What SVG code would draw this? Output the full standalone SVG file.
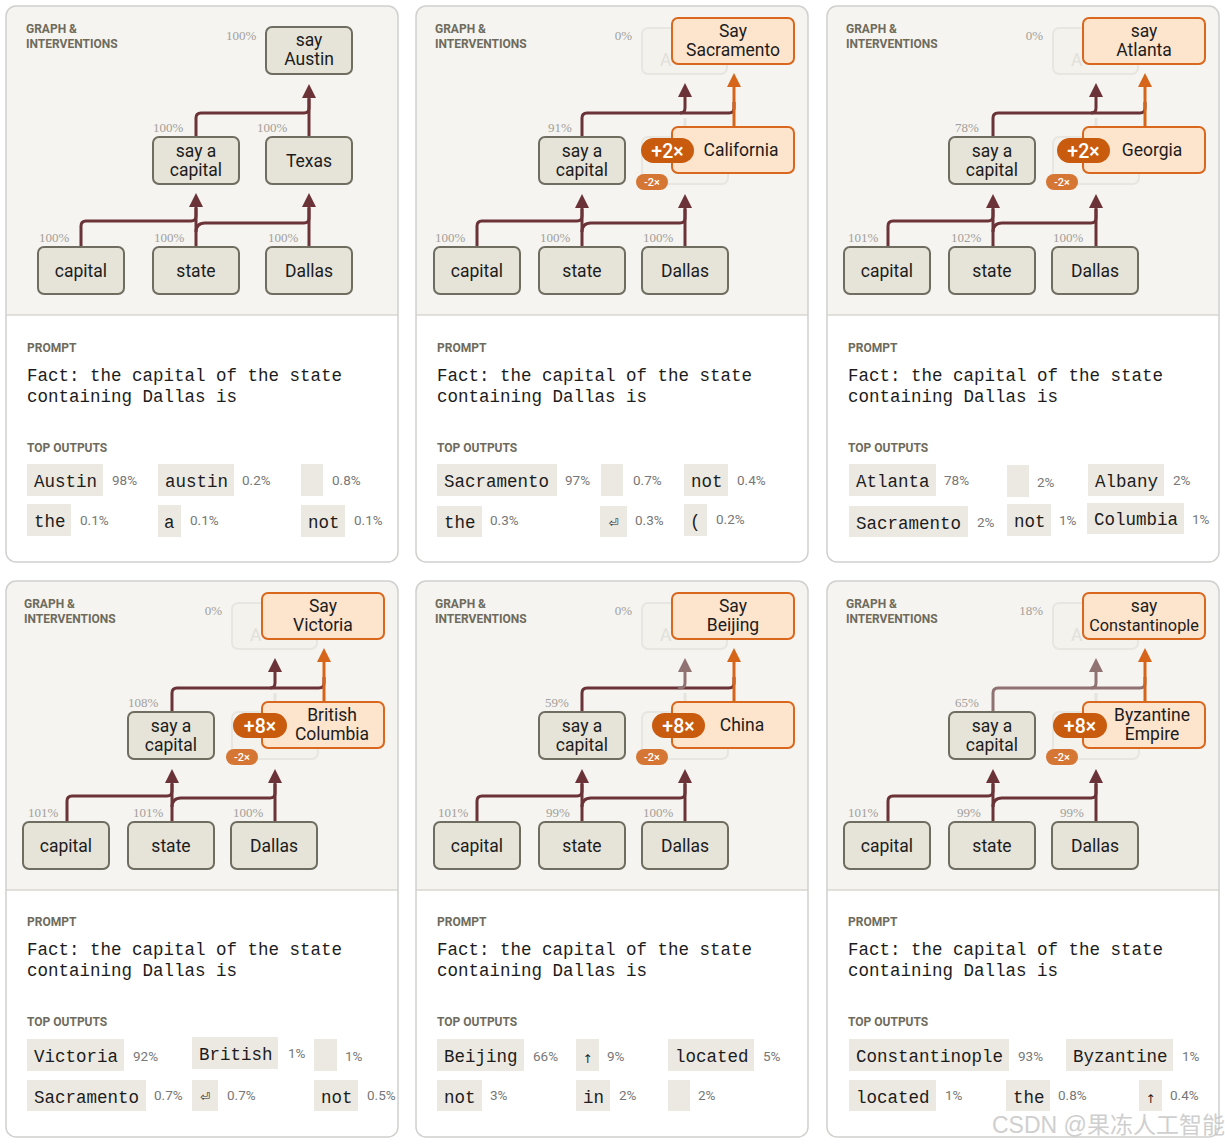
<svg xmlns="http://www.w3.org/2000/svg" width="1225" height="1146" viewBox="0 0 1225 1146">
<defs>
<style>
.bg{fill:#ffffff}
.card{fill:#ffffff}
.gbg{fill:#f5f4f0}
.div{stroke:#d9d7d0;stroke-width:1.5}
.cardb{fill:none;stroke:#d0d0ce;stroke-width:1.5}
.hd{font-family:Roboto,'Liberation Sans',sans-serif;font-weight:700;font-size:12px;fill:#6e6b5c}
.n{fill:#e6e3d8;stroke:#6f6c60;stroke-width:2}
.nf{fill:#f3f2ed;stroke:#e8e6e0;stroke-width:2}
.no{fill:#fde4cd;stroke:#d9671d;stroke-width:2}
.nt{font-family:Roboto,'Liberation Sans',sans-serif;font-size:17.5px;fill:#1c1c1c;text-anchor:middle}
.ntf{font-family:Roboto,'Liberation Sans',sans-serif;font-size:17.5px;fill:#e2e0da}
.pct{font-family:'Liberation Serif',serif;font-size:13px;fill:#a3a09b}
.e{fill:none;stroke:#6b3337;stroke-width:3}
.ef{fill:none;stroke:#907273;stroke-width:3}
.eo{fill:none;stroke:#d6651a;stroke-width:3}
.eg{fill:none;stroke:#e6e4de;stroke-width:3}
.bb{fill:#c95b0e}
.bbt{font-family:Roboto,'Liberation Sans',sans-serif;font-weight:500;font-size:19.5px;fill:#ffffff;text-anchor:middle}
.bs{fill:#d67634}
.bst{font-family:Roboto,'Liberation Sans',sans-serif;font-weight:500;font-size:11px;fill:#ffffff;text-anchor:middle}
.mono{font-family:'Liberation Mono','DejaVu Sans Mono',monospace;font-size:17.5px;fill:#1c1c1c}
.sym{font-family:'DejaVu Sans','DejaVu Sans Mono',sans-serif;font-size:12px;fill:#1c1c1c;text-anchor:middle}
.tb{fill:#ece9e2}
.pc{font-family:Roboto,'Liberation Sans',sans-serif;font-size:13.5px;fill:#777777}
.wm{font-family:'Liberation Sans','Noto Sans CJK SC',sans-serif;font-size:23px;fill:#c4c4c4;opacity:0.8}
</style>
<marker id="am" viewBox="0 0 14 14" refX="0" refY="7" markerWidth="14" markerHeight="14" markerUnits="userSpaceOnUse" orient="auto"><path d="M0,0 L14,7 L0,14 Z" fill="#6b3337"/></marker>
<marker id="amf" viewBox="0 0 14 14" refX="0" refY="7" markerWidth="14" markerHeight="14" markerUnits="userSpaceOnUse" orient="auto"><path d="M0,0 L14,7 L0,14 Z" fill="#907273"/></marker>
<marker id="ao" viewBox="0 0 14 14" refX="0" refY="7" markerWidth="14" markerHeight="14" markerUnits="userSpaceOnUse" orient="auto"><path d="M0,0 L14,7 L0,14 Z" fill="#d6651a"/></marker>
</defs>
<rect class="bg" width="1225" height="1146"/>

<!-- PANEL 1 -->
<g id="panel-1" transform="translate(6,6)">
<rect class="card" width="392" height="556" rx="10"/>
<path class="gbg" d="M0,10 Q0,0 10,0 H382 Q392,0 392,10 V309 H0 Z"/>
<line class="div" x1="0" y1="309" x2="392" y2="309"/>
<rect class="cardb" width="392" height="556" rx="10"/>
<text class="hd" x="20" y="27">GRAPH &amp;</text>
<text class="hd" x="20" y="41.5">INTERVENTIONS</text>
<g id="p1-connectors">
<path class="e" d="M75,241 V220 Q75,215 80,215 H185 Q190,215 190,210 V202"/>
<path class="e" d="M190,226 Q190,217 199,217 H298 Q303,217 303,212 V202"/>
<path class="e" d="M190,241 V201" marker-end="url(#am)"/>
<path class="e" d="M303,241 V201" marker-end="url(#am)"/>
<path class="e" d="M190,131 V112 Q190,107 195,107 H298 Q303,107 303,102 V93"/>
<path class="e" d="M303,131 V92" marker-end="url(#am)"/>
</g>
<g id="p1-say-austin"><rect class="n" x="260" y="21" width="86" height="47" rx="6"/><text class="nt" x="303" y="40">say</text><text class="nt" x="303" y="59">Austin</text></g>
<g id="p1-say-a-capital"><rect class="n" x="147" y="131" width="86" height="47" rx="6"/><text class="nt" x="190" y="150.5">say a</text><text class="nt" x="190" y="169.5">capital</text></g>
<g id="p1-texas"><rect class="n" x="260" y="131" width="86" height="47" rx="6"/><text class="nt" x="303" y="160.5">Texas</text></g>
<g id="p1-capital"><rect class="n" x="32" y="241" width="86" height="47" rx="6"/><text class="nt" x="75" y="270.5">capital</text></g>
<g id="p1-state"><rect class="n" x="147" y="241" width="86" height="47" rx="6"/><text class="nt" x="190" y="270.5">state</text></g>
<g id="p1-dallas"><rect class="n" x="260" y="241" width="86" height="47" rx="6"/><text class="nt" x="303" y="270.5">Dallas</text></g>
<text class="pct" x="220" y="34">100%</text>
<text class="pct" x="147" y="126">100%</text>
<text class="pct" x="251" y="126">100%</text>
<text class="pct" x="33" y="236">100%</text>
<text class="pct" x="148" y="236">100%</text>
<text class="pct" x="262" y="236">100%</text>
<text class="hd" x="21" y="346">PROMPT</text>
<text class="mono" x="21" y="375">Fact: the capital of the state</text>
<text class="mono" x="21" y="396">containing Dallas is</text>
<text class="hd" x="21" y="446">TOP OUTPUTS</text>
<rect class="tb" x="21" y="458" width="76" height="32"/><text class="mono" x="28" y="481">Austin</text><text class="pc" x="106" y="479">98%</text>
<rect class="tb" x="152" y="458" width="76" height="32"/><text class="mono" x="159" y="481">austin</text><text class="pc" x="236" y="479">0.2%</text>
<rect class="tb" x="295" y="458" width="22" height="32"/><text class="pc" x="326" y="479">0.8%</text>
<rect class="tb" x="21" y="498" width="44" height="32"/><text class="mono" x="28" y="521">the</text><text class="pc" x="74" y="519">0.1%</text>
<rect class="tb" x="152" y="499" width="23" height="32"/><text class="mono" x="158" y="522">a</text><text class="pc" x="184" y="519">0.1%</text>
<rect class="tb" x="295" y="499" width="44" height="32"/><text class="mono" x="302" y="522">not</text><text class="pc" x="348" y="519">0.1%</text>
</g>

<!-- PANEL 2 -->
<g id="panel-2" transform="translate(416,6)">
<rect class="card" width="392" height="556" rx="10"/>
<path class="gbg" d="M0,10 Q0,0 10,0 H382 Q392,0 392,10 V309 H0 Z"/>
<line class="div" x1="0" y1="309" x2="392" y2="309"/>
<rect class="cardb" width="392" height="556" rx="10"/>
<text class="hd" x="19" y="27">GRAPH &amp;</text>
<text class="hd" x="19" y="41.5">INTERVENTIONS</text>
<g id="p2-austin-off"><rect class="nf" x="226" y="22" width="85" height="46" rx="6"/><text class="ntf" x="244" y="60">A</text></g>
<g id="p2-texas-off"><rect class="nf" x="226" y="131" width="86" height="47" rx="6"/></g>
<g id="p2-connectors">
<path class="eg" d="M269,131 V112"/>
<path class="e" d="M61,241 V220 Q61,215 66,215 H161 Q166,215 166,210 V203"/>
<path class="e" d="M166,226 Q166,217 175,217 H264 Q269,217 269,212 V203"/>
<path class="e" d="M166,241 V202" marker-end="url(#am)"/>
<path class="e" d="M269,241 V202" marker-end="url(#am)"/>
<path class="e" d="M166,131 V112 Q166,107 171,107 H313 Q318,107 318,102 V96"/>
<path class="e" d="M264,107 Q269,107 269,102 V91" marker-end="url(#am)"/>
<path class="eo" d="M318,121 V81" marker-end="url(#ao)"/>
</g>
<g id="p2-say-sacramento"><rect class="no" x="256" y="12" width="122" height="46" rx="6"/><text class="nt" x="317" y="30.5">Say</text><text class="nt" x="317" y="49.5">Sacramento</text></g>
<g id="p2-california"><rect class="no" x="256" y="121" width="122" height="46" rx="6"/><text class="nt" x="325" y="150">California</text></g>
<g id="p2-say-a-capital"><rect class="n" x="123" y="131" width="86" height="47" rx="6"/><text class="nt" x="166" y="150.5">say a</text><text class="nt" x="166" y="169.5">capital</text></g>
<g id="p2-capital"><rect class="n" x="18" y="241" width="86" height="47" rx="6"/><text class="nt" x="61" y="270.5">capital</text></g>
<g id="p2-state"><rect class="n" x="123" y="241" width="86" height="47" rx="6"/><text class="nt" x="166" y="270.5">state</text></g>
<g id="p2-dallas"><rect class="n" x="226" y="241" width="86" height="47" rx="6"/><text class="nt" x="269" y="270.5">Dallas</text></g>
<g id="p2-boost"><rect class="bb" x="225" y="132" width="53" height="25" rx="12.5"/><text class="bbt" x="251.5" y="151.5">+2×</text></g>
<g id="p2-suppress"><rect class="bs" x="220" y="168" width="32" height="16" rx="8"/><text class="bst" x="236" y="180">-2×</text></g>
<text class="pct" x="216" y="34" text-anchor="end">0%</text>
<text class="pct" x="132" y="126">91%</text>
<text class="pct" x="19" y="236">100%</text>
<text class="pct" x="124" y="236">100%</text>
<text class="pct" x="227" y="236">100%</text>
<text class="hd" x="21" y="346">PROMPT</text>
<text class="mono" x="21" y="375">Fact: the capital of the state</text>
<text class="mono" x="21" y="396">containing Dallas is</text>
<text class="hd" x="21" y="446">TOP OUTPUTS</text>
<rect class="tb" x="21" y="458" width="120" height="32"/><text class="mono" x="28" y="481">Sacramento</text><text class="pc" x="149" y="479">97%</text>
<rect class="tb" x="185" y="458" width="22" height="32"/><text class="pc" x="217" y="479">0.7%</text>
<rect class="tb" x="268" y="458" width="44" height="32"/><text class="mono" x="275" y="481">not</text><text class="pc" x="321" y="479">0.4%</text>
<rect class="tb" x="21" y="500" width="45" height="31"/><text class="mono" x="28" y="522">the</text><text class="pc" x="74" y="519">0.3%</text>
<rect class="tb" x="184" y="500" width="27" height="31"/><text class="sym" x="197.5" y="521">⏎</text><text class="pc" x="219" y="519">0.3%</text>
<rect class="tb" x="268" y="498" width="23" height="32"/><text class="mono" x="274" y="521">(</text><text class="pc" x="300" y="518">0.2%</text>
</g>

<!-- PANEL 3 -->
<g id="panel-3" transform="translate(827,6)">
<rect class="card" width="392" height="556" rx="10"/>
<path class="gbg" d="M0,10 Q0,0 10,0 H382 Q392,0 392,10 V309 H0 Z"/>
<line class="div" x1="0" y1="309" x2="392" y2="309"/>
<rect class="cardb" width="392" height="556" rx="10"/>
<text class="hd" x="19" y="27">GRAPH &amp;</text>
<text class="hd" x="19" y="41.5">INTERVENTIONS</text>
<g id="p3-austin-off"><rect class="nf" x="226" y="22" width="85" height="46" rx="6"/><text class="ntf" x="244" y="60">A</text></g>
<g id="p3-texas-off"><rect class="nf" x="226" y="131" width="86" height="47" rx="6"/></g>
<g id="p3-connectors">
<path class="eg" d="M269,131 V112"/>
<path class="e" d="M61,241 V220 Q61,215 66,215 H161 Q166,215 166,210 V203"/>
<path class="e" d="M166,226 Q166,217 175,217 H264 Q269,217 269,212 V203"/>
<path class="e" d="M166,241 V202" marker-end="url(#am)"/>
<path class="e" d="M269,241 V202" marker-end="url(#am)"/>
<path class="e" d="M166,131 V112 Q166,107 171,107 H313 Q318,107 318,102 V96"/>
<path class="e" d="M264,107 Q269,107 269,102 V91" marker-end="url(#am)"/>
<path class="eo" d="M318,121 V81" marker-end="url(#ao)"/>
</g>
<g id="p3-say-atlanta"><rect class="no" x="256" y="12" width="122" height="46" rx="6"/><text class="nt" x="317" y="30.5">say</text><text class="nt" x="317" y="49.5">Atlanta</text></g>
<g id="p3-georgia"><rect class="no" x="256" y="121" width="122" height="46" rx="6"/><text class="nt" x="325" y="150">Georgia</text></g>
<g id="p3-say-a-capital"><rect class="n" x="122" y="131" width="86" height="47" rx="6"/><text class="nt" x="165" y="150.5">say a</text><text class="nt" x="165" y="169.5">capital</text></g>
<g id="p3-capital"><rect class="n" x="17" y="241" width="86" height="47" rx="6"/><text class="nt" x="60" y="270.5">capital</text></g>
<g id="p3-state"><rect class="n" x="122" y="241" width="86" height="47" rx="6"/><text class="nt" x="165" y="270.5">state</text></g>
<g id="p3-dallas"><rect class="n" x="225" y="241" width="86" height="47" rx="6"/><text class="nt" x="268" y="270.5">Dallas</text></g>
<g id="p3-boost"><rect class="bb" x="230" y="132" width="53" height="25" rx="12.5"/><text class="bbt" x="256.5" y="151.5">+2×</text></g>
<g id="p3-suppress"><rect class="bs" x="219" y="168" width="32" height="16" rx="8"/><text class="bst" x="235" y="180">-2×</text></g>
<text class="pct" x="216" y="34" text-anchor="end">0%</text>
<text class="pct" x="128" y="126">78%</text>
<text class="pct" x="21" y="236">101%</text>
<text class="pct" x="124" y="236">102%</text>
<text class="pct" x="226" y="236">100%</text>
<text class="hd" x="21" y="346">PROMPT</text>
<text class="mono" x="21" y="375">Fact: the capital of the state</text>
<text class="mono" x="21" y="396">containing Dallas is</text>
<text class="hd" x="21" y="446">TOP OUTPUTS</text>
<rect class="tb" x="22" y="458" width="87" height="32"/><text class="mono" x="29" y="481">Atlanta</text><text class="pc" x="117" y="479">78%</text>
<rect class="tb" x="180" y="459" width="22" height="32"/><text class="pc" x="210" y="481">2%</text>
<rect class="tb" x="261" y="458" width="76" height="32"/><text class="mono" x="268" y="481">Albany</text><text class="pc" x="346" y="479">2%</text>
<rect class="tb" x="22" y="500" width="119" height="31"/><text class="mono" x="29" y="523">Sacramento</text><text class="pc" x="150" y="521">2%</text>
<rect class="tb" x="180" y="498" width="44" height="32"/><text class="mono" x="187" y="521">not</text><text class="pc" x="232" y="519">1%</text>
<rect class="tb" x="260" y="497" width="97" height="31"/><text class="mono" x="267" y="519">Columbia</text><text class="pc" x="365" y="518">1%</text>
</g>

<!-- PANEL 4 -->
<g id="panel-4" transform="translate(6,581)">
<rect class="card" width="392" height="556" rx="10"/>
<path class="gbg" d="M0,10 Q0,0 10,0 H382 Q392,0 392,10 V309 H0 Z"/>
<line class="div" x1="0" y1="309" x2="392" y2="309"/>
<rect class="cardb" width="392" height="556" rx="10"/>
<text class="hd" x="18" y="27">GRAPH &amp;</text>
<text class="hd" x="18" y="41.5">INTERVENTIONS</text>
<g id="p4-austin-off"><rect class="nf" x="226" y="22" width="85" height="46" rx="6"/><text class="ntf" x="244" y="60">A</text></g>
<g id="p4-texas-off"><rect class="nf" x="226" y="131" width="86" height="47" rx="6"/></g>
<g id="p4-connectors">
<path class="eg" d="M269,131 V112"/>
<path class="e" d="M61,241 V220 Q61,215 66,215 H161 Q166,215 166,210 V203"/>
<path class="e" d="M166,226 Q166,217 175,217 H264 Q269,217 269,212 V203"/>
<path class="e" d="M166,241 V202" marker-end="url(#am)"/>
<path class="e" d="M269,241 V202" marker-end="url(#am)"/>
<path class="e" d="M166,131 V112 Q166,107 171,107 H313 Q318,107 318,102 V96"/>
<path class="e" d="M264,107 Q269,107 269,102 V91" marker-end="url(#am)"/>
<path class="eo" d="M318,121 V81" marker-end="url(#ao)"/>
</g>
<g id="p4-say-victoria"><rect class="no" x="256" y="12" width="122" height="46" rx="6"/><text class="nt" x="317" y="30.5">Say</text><text class="nt" x="317" y="49.5">Victoria</text></g>
<g id="p4-british-columbia"><rect class="no" x="256" y="121" width="122" height="46" rx="6"/><text class="nt" x="326" y="140">British</text><text class="nt" x="326" y="159">Columbia</text></g>
<g id="p4-say-a-capital"><rect class="n" x="122" y="131" width="86" height="47" rx="6"/><text class="nt" x="165" y="150.5">say a</text><text class="nt" x="165" y="169.5">capital</text></g>
<g id="p4-capital"><rect class="n" x="17" y="241" width="86" height="47" rx="6"/><text class="nt" x="60" y="270.5">capital</text></g>
<g id="p4-state"><rect class="n" x="122" y="241" width="86" height="47" rx="6"/><text class="nt" x="165" y="270.5">state</text></g>
<g id="p4-dallas"><rect class="n" x="225" y="241" width="86" height="47" rx="6"/><text class="nt" x="268" y="270.5">Dallas</text></g>
<g id="p4-boost"><rect class="bb" x="227" y="132" width="54" height="25" rx="12.5"/><text class="bbt" x="254" y="151.5">+8×</text></g>
<g id="p4-suppress"><rect class="bs" x="220" y="168" width="32" height="16" rx="8"/><text class="bst" x="236" y="180">-2×</text></g>
<text class="pct" x="216" y="34" text-anchor="end">0%</text>
<text class="pct" x="122" y="126">108%</text>
<text class="pct" x="22" y="236">101%</text>
<text class="pct" x="127" y="236">101%</text>
<text class="pct" x="227" y="236">100%</text>
<text class="hd" x="21" y="345">PROMPT</text>
<text class="mono" x="21" y="374">Fact: the capital of the state</text>
<text class="mono" x="21" y="395">containing Dallas is</text>
<text class="hd" x="21" y="445">TOP OUTPUTS</text>
<rect class="tb" x="21" y="458" width="97" height="32"/><text class="mono" x="28" y="481">Victoria</text><text class="pc" x="127" y="480">92%</text>
<rect class="tb" x="186" y="456" width="86" height="32"/><text class="mono" x="193" y="479">British</text><text class="pc" x="282" y="477">1%</text>
<rect class="tb" x="308" y="458" width="23" height="32"/><text class="pc" x="339" y="480">1%</text>
<rect class="tb" x="21" y="499" width="119" height="31"/><text class="mono" x="28" y="522">Sacramento</text><text class="pc" x="148" y="519">0.7%</text>
<rect class="tb" x="186" y="499" width="26" height="31"/><text class="sym" x="199" y="520">⏎</text><text class="pc" x="221" y="519">0.7%</text>
<rect class="tb" x="308" y="499" width="44" height="31"/><text class="mono" x="315" y="522">not</text><text class="pc" x="361" y="519">0.5%</text>
</g>

<!-- PANEL 5 -->
<g id="panel-5" transform="translate(416,581)">
<rect class="card" width="392" height="556" rx="10"/>
<path class="gbg" d="M0,10 Q0,0 10,0 H382 Q392,0 392,10 V309 H0 Z"/>
<line class="div" x1="0" y1="309" x2="392" y2="309"/>
<rect class="cardb" width="392" height="556" rx="10"/>
<text class="hd" x="19" y="27">GRAPH &amp;</text>
<text class="hd" x="19" y="41.5">INTERVENTIONS</text>
<g id="p5-austin-off"><rect class="nf" x="226" y="22" width="85" height="46" rx="6"/><text class="ntf" x="244" y="60">A</text></g>
<g id="p5-texas-off"><rect class="nf" x="226" y="131" width="86" height="47" rx="6"/></g>
<g id="p5-connectors">
<path class="eg" d="M269,131 V112"/>
<path class="e" d="M61,241 V220 Q61,215 66,215 H161 Q166,215 166,210 V203"/>
<path class="e" d="M166,226 Q166,217 175,217 H264 Q269,217 269,212 V203"/>
<path class="e" d="M166,241 V202" marker-end="url(#am)"/>
<path class="e" d="M269,241 V202" marker-end="url(#am)"/>
<path class="e" d="M166,131 V112 Q166,107 171,107 H313 Q318,107 318,102 V96"/>
<path class="ef" d="M262,107 H264 Q269,107 269,102 V91" marker-end="url(#amf)"/>
<path class="eo" d="M318,121 V81" marker-end="url(#ao)"/>
</g>
<g id="p5-say-beijing"><rect class="no" x="256" y="12" width="122" height="46" rx="6"/><text class="nt" x="317" y="30.5">Say</text><text class="nt" x="317" y="49.5">Beijing</text></g>
<g id="p5-china"><rect class="no" x="256" y="121" width="122" height="46" rx="6"/><text class="nt" x="326" y="150">China</text></g>
<g id="p5-say-a-capital"><rect class="n" x="123" y="131" width="86" height="47" rx="6"/><text class="nt" x="166" y="150.5">say a</text><text class="nt" x="166" y="169.5">capital</text></g>
<g id="p5-capital"><rect class="n" x="18" y="241" width="86" height="47" rx="6"/><text class="nt" x="61" y="270.5">capital</text></g>
<g id="p5-state"><rect class="n" x="123" y="241" width="86" height="47" rx="6"/><text class="nt" x="166" y="270.5">state</text></g>
<g id="p5-dallas"><rect class="n" x="226" y="241" width="86" height="47" rx="6"/><text class="nt" x="269" y="270.5">Dallas</text></g>
<g id="p5-boost"><rect class="bb" x="236" y="132" width="53" height="25" rx="12.5"/><text class="bbt" x="262.5" y="151.5">+8×</text></g>
<g id="p5-suppress"><rect class="bs" x="220" y="168" width="32" height="16" rx="8"/><text class="bst" x="236" y="180">-2×</text></g>
<text class="pct" x="216" y="34" text-anchor="end">0%</text>
<text class="pct" x="129" y="126">59%</text>
<text class="pct" x="22" y="236">101%</text>
<text class="pct" x="130" y="236">99%</text>
<text class="pct" x="227" y="236">100%</text>
<text class="hd" x="21" y="345">PROMPT</text>
<text class="mono" x="21" y="374">Fact: the capital of the state</text>
<text class="mono" x="21" y="395">containing Dallas is</text>
<text class="hd" x="21" y="445">TOP OUTPUTS</text>
<rect class="tb" x="21" y="458" width="87" height="32"/><text class="mono" x="28" y="481">Beijing</text><text class="pc" x="117" y="480">66%</text>
<rect class="tb" x="160" y="458" width="23" height="32"/><text class="sym" x="171.5" y="482">↑</text><text class="pc" x="191" y="480">9%</text>
<rect class="tb" x="252" y="458" width="86" height="32"/><text class="mono" x="259" y="481">located</text><text class="pc" x="347" y="480">5%</text>
<rect class="tb" x="21" y="499" width="45" height="31"/><text class="mono" x="28" y="522">not</text><text class="pc" x="74" y="519">3%</text>
<rect class="tb" x="160" y="499" width="34" height="31"/><text class="mono" x="167" y="522">in</text><text class="pc" x="203" y="519">2%</text>
<rect class="tb" x="252" y="499" width="22" height="31"/><text class="pc" x="282" y="519">2%</text>
</g>

<!-- PANEL 6 -->
<g id="panel-6" transform="translate(827,581)">
<rect class="card" width="392" height="556" rx="10"/>
<path class="gbg" d="M0,10 Q0,0 10,0 H382 Q392,0 392,10 V309 H0 Z"/>
<line class="div" x1="0" y1="309" x2="392" y2="309"/>
<rect class="cardb" width="392" height="556" rx="10"/>
<text class="hd" x="19" y="27">GRAPH &amp;</text>
<text class="hd" x="19" y="41.5">INTERVENTIONS</text>
<g id="p6-austin-off"><rect class="nf" x="226" y="22" width="85" height="46" rx="6"/><text class="ntf" x="244" y="60">A</text></g>
<g id="p6-texas-off"><rect class="nf" x="226" y="131" width="86" height="47" rx="6"/></g>
<g id="p6-connectors">
<path class="eg" d="M269,131 V112"/>
<path class="e" d="M61,241 V220 Q61,215 66,215 H161 Q166,215 166,210 V203"/>
<path class="e" d="M166,226 Q166,217 175,217 H264 Q269,217 269,212 V203"/>
<path class="e" d="M166,241 V202" marker-end="url(#am)"/>
<path class="e" d="M269,241 V202" marker-end="url(#am)"/>
<path class="ef" d="M166,131 V112 Q166,107 171,107 H313 Q318,107 318,102 V96"/>
<path class="ef" d="M264,107 Q269,107 269,102 V91" marker-end="url(#amf)"/>
<path class="eo" d="M318,121 V81" marker-end="url(#ao)"/>
</g>
<g id="p6-say-constantinople"><rect class="no" x="256" y="12" width="122" height="46" rx="6"/><text class="nt" x="317" y="30.5">say</text><text class="nt" x="317" y="49.5" style="font-size:16.3px">Constantinople</text></g>
<g id="p6-byzantine-empire"><rect class="no" x="256" y="121" width="122" height="46" rx="6"/><text class="nt" x="325" y="140">Byzantine</text><text class="nt" x="325" y="159">Empire</text></g>
<g id="p6-say-a-capital"><rect class="n" x="122" y="131" width="86" height="47" rx="6"/><text class="nt" x="165" y="150.5">say a</text><text class="nt" x="165" y="169.5">capital</text></g>
<g id="p6-capital"><rect class="n" x="17" y="241" width="86" height="47" rx="6"/><text class="nt" x="60" y="270.5">capital</text></g>
<g id="p6-state"><rect class="n" x="122" y="241" width="86" height="47" rx="6"/><text class="nt" x="165" y="270.5">state</text></g>
<g id="p6-dallas"><rect class="n" x="225" y="241" width="86" height="47" rx="6"/><text class="nt" x="268" y="270.5">Dallas</text></g>
<g id="p6-boost"><rect class="bb" x="226" y="132" width="54" height="25" rx="12.5"/><text class="bbt" x="253" y="151.5">+8×</text></g>
<g id="p6-suppress"><rect class="bs" x="219" y="168" width="32" height="16" rx="8"/><text class="bst" x="235" y="180">-2×</text></g>
<text class="pct" x="216" y="34" text-anchor="end">18%</text>
<text class="pct" x="128" y="126">65%</text>
<text class="pct" x="21" y="236">101%</text>
<text class="pct" x="130" y="236">99%</text>
<text class="pct" x="233" y="236">99%</text>
<text class="hd" x="21" y="345">PROMPT</text>
<text class="mono" x="21" y="374">Fact: the capital of the state</text>
<text class="mono" x="21" y="395">containing Dallas is</text>
<text class="hd" x="21" y="445">TOP OUTPUTS</text>
<rect class="tb" x="22" y="458" width="160" height="32"/><text class="mono" x="29" y="481">Constantinople</text><text class="pc" x="191" y="480">93%</text>
<rect class="tb" x="239" y="458" width="107" height="32"/><text class="mono" x="246" y="481">Byzantine</text><text class="pc" x="355" y="480">1%</text>
<rect class="tb" x="22" y="499" width="87" height="31"/><text class="mono" x="29" y="522">located</text><text class="pc" x="118" y="519">1%</text>
<rect class="tb" x="179" y="499" width="44" height="31"/><text class="mono" x="186" y="522">the</text><text class="pc" x="231" y="519">0.8%</text>
<rect class="tb" x="312" y="499" width="23" height="31"/><text class="sym" x="323.5" y="522">↑</text><text class="pc" x="343" y="519">0.4%</text>
</g>

<text class="wm" x="992" y="1133">CSDN @果冻人工智能</text>
</svg>
